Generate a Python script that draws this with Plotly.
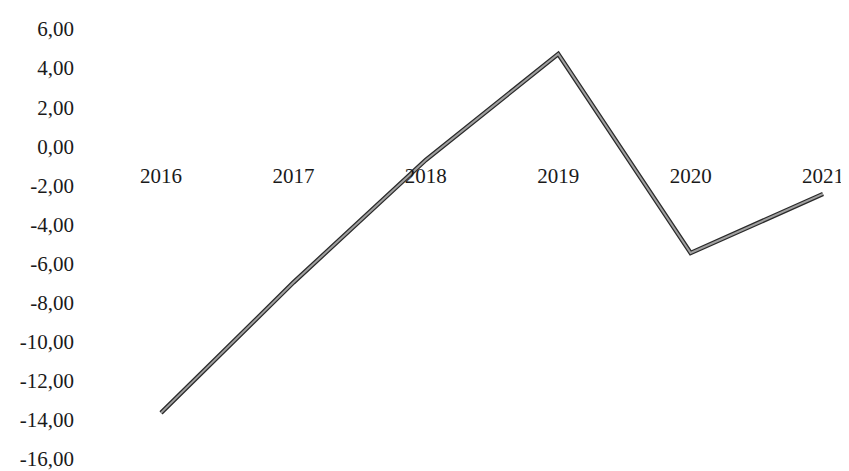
import plotly.graph_objects as go

years = ["2016", "2017", "2018", "2019", "2020", "2021"]
values = [-13.64, -6.97, -0.70, 4.72, -5.46, -2.44]

y_ticks = [6, 4, 2, 0, -2, -4, -6, -8, -10, -12, -14, -16]
y_labels = ["6,00", "4,00", "2,00", "0,00", "-2,00", "-4,00", "-6,00",
            "-8,00", "-10,00", "-12,00", "-14,00", "-16,00"]

fig = go.Figure()
# dark edge under a lighter grey core, like the scanned line
fig.add_trace(go.Scatter(x=years, y=values, mode="lines",
                         line=dict(color="#2a2a2a", width=4.5), hoverinfo="skip"))
fig.add_trace(go.Scatter(x=years, y=values, mode="lines",
                         line=dict(color="#a0a0a0", width=2)))

fig.update_layout(
    width=849, height=471,
    margin=dict(l=86, r=8, t=21, b=20),
    paper_bgcolor="white", plot_bgcolor="white",
    showlegend=False,
    font=dict(family="Liberation Serif", size=21, color="#1a1a1a"),
    xaxis=dict(type="category", range=[-0.506, 5.196], showgrid=False,
               zeroline=False, showline=False, ticks="",
               anchor="free", position=16 / 22, ticklabelstandoff=15),
    yaxis=dict(range=[-16, 6], tickvals=y_ticks, ticktext=y_labels,
               showgrid=False, zeroline=False, showline=False, ticks="",
               ticklabelstandoff=19),
)

fig.write_html("out.html")
